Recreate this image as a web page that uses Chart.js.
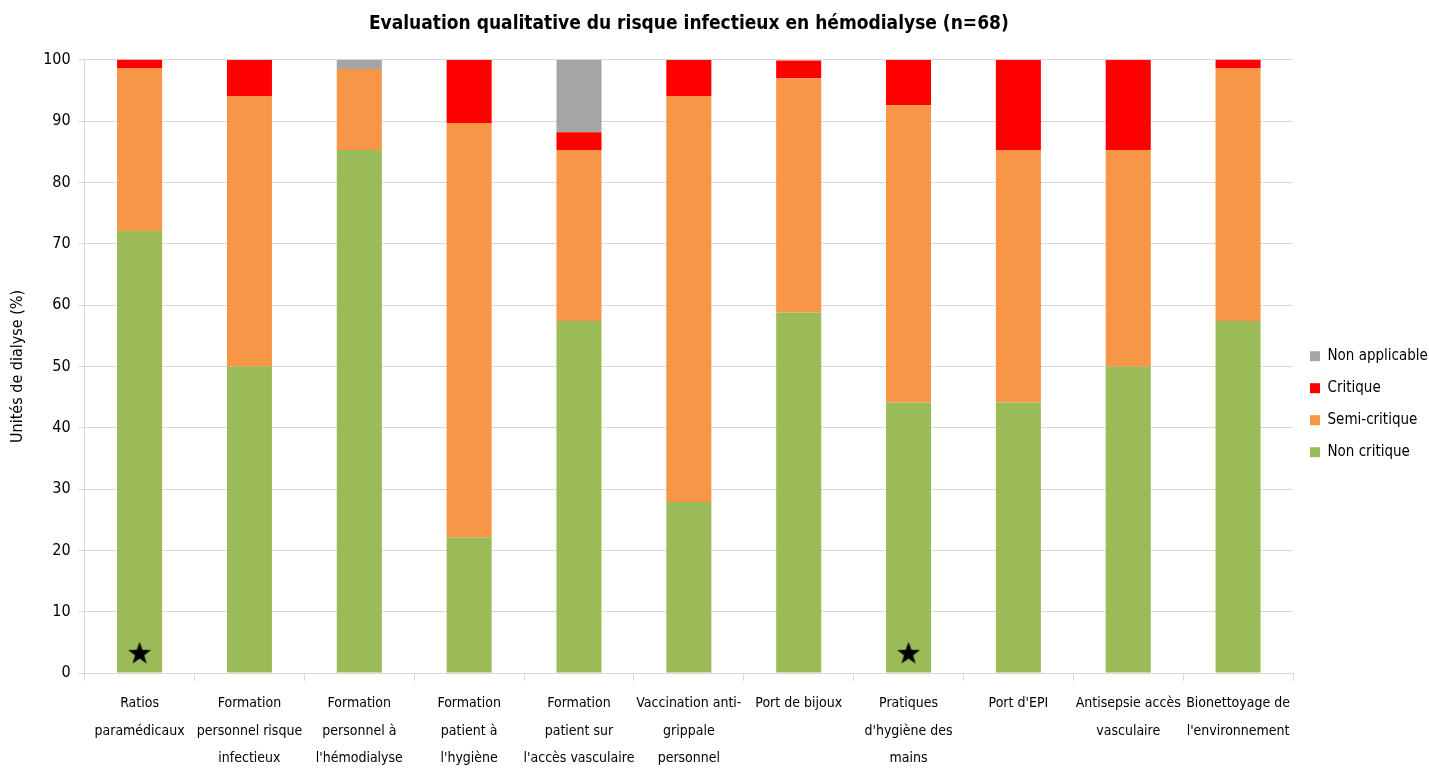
<!DOCTYPE html>
<html>
<head>
<meta charset="utf-8">
<script src="https://cdn.jsdelivr.net/npm/chart.js@4"></script>
<style>
  html, body { margin: 0; padding: 0; background: #fff; }
  #wrap { width: 1429px; height: 768px; }
</style>
</head>
<body>
<div id="wrap"><canvas id="chart"></canvas></div>
<script>
// donnees (n=68, en %)
const categories = [
  ["Ratios", "paramédicaux"],
  ["Formation", "personnel risque", "infectieux"],
  ["Formation", "personnel à", "l'hémodialyse"],
  ["Formation", "patient à", "l'hygiène"],
  ["Formation", "patient sur", "l'accès vasculaire"],
  ["Vaccination anti-", "grippale", "personnel"],
  ["Port de bijoux"],
  ["Pratiques", "d'hygiène des", "mains"],
  ["Port d'EPI"],
  ["Antisepsie accès", "vasculaire"],
  ["Bionettoyage de", "l'environnement"]
];
const nonCritique   = [72.1, 50.0, 85.3, 22.1, 57.4, 27.9, 58.8, 44.1, 44.1, 50.0, 57.4];
const semiCritique  = [26.5, 44.1, 13.2, 67.6, 27.9, 66.2, 38.2, 48.5, 41.2, 35.3, 41.2];
const critique      = [1.5, 5.9, 0, 10.3, 2.9, 5.9, 2.9, 7.4, 14.7, 14.7, 1.5];
const nonApplicable = [0, 0, 1.5, 0, 11.8, 0, 0, 0, 0, 0, 0];
const etoiles       = [3.3, null, null, null, null, null, null, 3.3, null, null, null];
const yTicks = [0, 10, 20, 30, 40, 50, 60, 70, 80, 90, 100];

const police = "'Liberation Sans Narrow', 'DejaVu Sans Condensed', 'Open Sans', sans-serif";

// etoile pleine pour les marqueurs
function makeStar(size) {
  const c = document.createElement('canvas');
  c.width = size; c.height = size;
  const g = c.getContext('2d');
  const cx = size / 2, cy = size / 2 + 1, R = size / 2, r = R * 0.4;
  g.beginPath();
  for (let i = 0; i < 10; i++) {
    const a = -Math.PI / 2 + i * Math.PI / 5;
    const rad = i % 2 === 0 ? R : r;
    g.lineTo(cx + rad * Math.cos(a), cy + rad * Math.sin(a));
  }
  g.closePath();
  g.fillStyle = '#000';
  g.fill();
  return c;
}

const barOpts = { barPercentage: 0.41, categoryPercentage: 1.0, stack: 'a', borderWidth: 0 };

new Chart(document.getElementById('chart'), {
  type: 'bar',
  data: {
    labels: categories,
    datasets: [
      Object.assign({ label: 'Non critique', data: nonCritique, backgroundColor: '#9BBB59' }, barOpts),
      Object.assign({ label: 'Semi-critique', data: semiCritique, backgroundColor: '#F79646' }, barOpts),
      Object.assign({ label: 'Critique', data: critique, backgroundColor: '#FF0000' }, barOpts),
      Object.assign({ label: 'Non applicable', data: nonApplicable, backgroundColor: '#A5A5A5' }, barOpts),
      {
        type: 'line', label: 'etoiles', data: etoiles, stack: 'b', order: -1,
        showLine: false, pointStyle: makeStar(24), pointRadius: 12,
        pointHoverRadius: 12, backgroundColor: '#000', borderColor: '#000'
      }
    ]
  },
  options: {
    responsive: true,
    maintainAspectRatio: false,
    animation: false,
    layout: { padding: { top: 4, right: 0, left: 4, bottom: 0 } },
    plugins: {
      title: {
        display: true,
        fullSize: false,
        text: 'Evaluation qualitative du risque infectieux en hémodialyse (n=68)',
        color: '#000',
        font: { family: police, size: 19, weight: 'bold' },
        padding: { top: 9, bottom: 24 }
      },
      legend: {
        position: 'right',
        reverse: true,
        maxWidth: 136,
        title: { display: true, text: ' ', font: { size: 2 }, padding: { top: 17, bottom: 17 } },
        labels: {
          filter: item => item.text !== 'etoiles',
          boxWidth: 10, boxHeight: 10,
          color: '#000',
          padding: 17,
          font: { family: police, size: 15 }
        }
      },
      tooltip: { enabled: false }
    },
    scales: {
      x: {
        stacked: true,
        afterFit: scale => { scale.height = 95; },
        grid: { offset: true, drawOnChartArea: false, color: '#D9D9D9', tickLength: 8 },
        border: { color: '#D9D9D9' },
        ticks: {
          autoSkip: false, maxRotation: 0, color: '#000',
          font: { family: police, size: 14, lineHeight: 1.96 }, padding: 9
        }
      },
      y: {
        stacked: true,
        min: 0, max: 100,
        afterBuildTicks: axis => { axis.ticks = yTicks.map(v => ({ value: v })); },
        grid: { color: '#D9D9D9', tickLength: 6 },
        border: { color: '#D9D9D9' },
        ticks: { color: '#000', font: { family: police, size: 16 }, padding: 8 },
        title: {
          display: true, text: 'Unités de dialyse (%)', color: '#000',
          font: { family: police, size: 16 }, padding: { bottom: 8 }
        }
      }
    }
  }
});
</script>
</body>
</html>
